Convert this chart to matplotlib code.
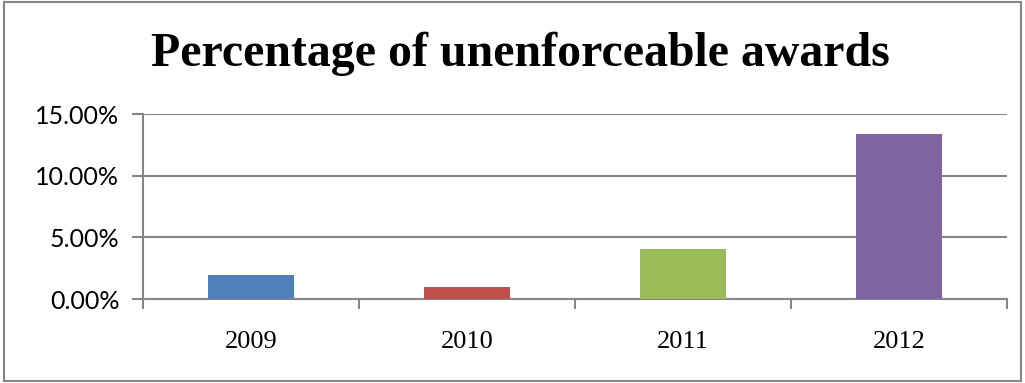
import matplotlib.pyplot as plt
from matplotlib.ticker import FuncFormatter
from matplotlib.patches import Rectangle

years = ['2009', '2010', '2011', '2012']
pct = [1.95, 0.97, 4.05, 13.38]
colors = ['#4F81BD', '#C0504D', '#9BBB59', '#8064A2']

fig = plt.figure(figsize=(10.25, 3.83), dpi=100)
ax = fig.add_axes([0.1395, 0.2193, 0.843, 0.483])

x = range(len(years))
ax.bar(x, pct, width=0.4, color=colors, zorder=3)

ax.set_xlim(-0.5, len(years) - 0.5)
ax.set_ylim(0, 15)
ax.set_yticks([0, 5, 10, 15])
ax.yaxis.set_major_formatter(FuncFormatter(lambda v, p: '%.2f%%' % v))
ax.set_xticks(list(x))
ax.set_xticklabels(years, fontfamily='Liberation Serif', fontsize=19)
ax.set_xticks([i - 0.5 for i in range(len(years) + 1)], minor=True)
ax.tick_params(axis='x', which='major', length=0, pad=23)
ax.tick_params(axis='x', which='minor', length=7, width=1.5, color='#868686')
ax.tick_params(axis='y', length=8, width=1.5, color='#868686', pad=9, labelsize=18)
for lab in ax.get_yticklabels():
    lab.set_family('Lato')

ax.grid(axis='y', color='#868686', linewidth=1.5, zorder=0)
for s in ['top', 'right']:
    ax.spines[s].set_visible(False)
for s in ['left', 'bottom']:
    ax.spines[s].set_color('#868686')
    ax.spines[s].set_linewidth(1.5)

fig.text(520 / 1025, 1 - 54 / 383, 'Percentage of unenforceable awards',
         ha='center', va='center', fontsize=34.5, fontweight='bold',
         family='Liberation Serif')

fig.patches.append(Rectangle((4 / 1025, 2 / 383), 1017 / 1025, 379 / 383,
                             transform=fig.transFigure, fill=False,
                             edgecolor='#868686', linewidth=1.5))

fig.savefig('out.png', dpi=100)
